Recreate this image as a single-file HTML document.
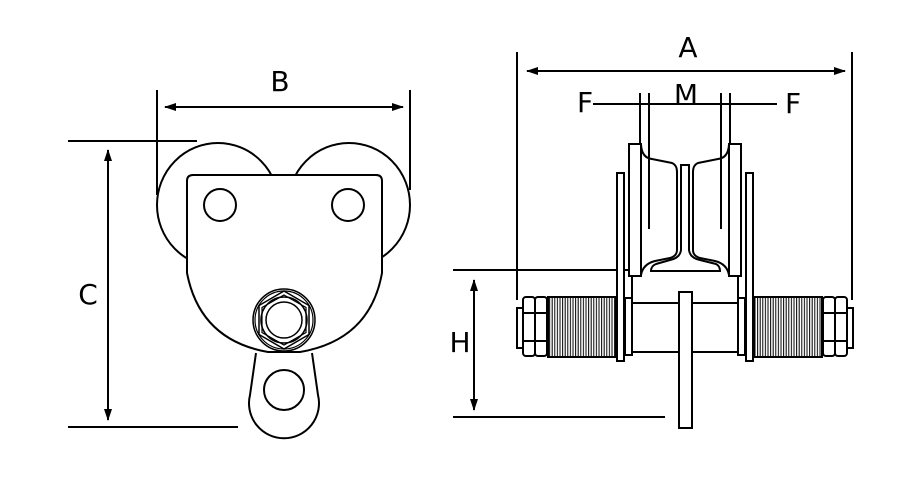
<!DOCTYPE html>
<html><head><style>html,body{margin:0;padding:0;background:#fff}svg{display:block}</style></head>
<body>
<svg width="900" height="495" viewBox="0 0 900 495" xmlns="http://www.w3.org/2000/svg">
<defs>
<marker id="ar" markerWidth="12" markerHeight="8" refX="11" refY="4" orient="auto" markerUnits="userSpaceOnUse"><path d="M0,0 L12,4 L0,8 Z" fill="#000"/></marker>
<marker id="al" markerWidth="12" markerHeight="8" refX="1" refY="4" orient="auto" markerUnits="userSpaceOnUse"><path d="M12,0 L0,4 L12,8 Z" fill="#000"/></marker>
<pattern id="th" width="2.6" height="10" patternUnits="userSpaceOnUse"><rect width="2.6" height="10" fill="#fff"/><line x1="1" y1="0" x2="1" y2="10" stroke="#000" stroke-width="1"/></pattern>
</defs>
<g fill="none" stroke="#000" stroke-width="2" font-family="'DejaVu Sans','Liberation Sans',sans-serif">
<!-- LEFT VIEW -->
<line x1="157" y1="90" x2="157" y2="195"/>
<line x1="410" y1="90" x2="410" y2="190"/>
<line x1="165" y1="107" x2="403" y2="107" marker-start="url(#al)" marker-end="url(#ar)"/>
<text x="280" y="91" font-size="28" fill="#000" stroke="none" text-anchor="middle">B</text>
<line x1="68" y1="141" x2="197" y2="141"/>
<line x1="68" y1="427" x2="238" y2="427"/>
<line x1="108" y1="150" x2="108" y2="420" marker-start="url(#al)" marker-end="url(#ar)"/>
<text x="88" y="304" font-size="28" fill="#000" stroke="none" text-anchor="middle">C</text>
<!-- wheels -->
<ellipse cx="218" cy="205" rx="61" ry="62"/>
<ellipse cx="349" cy="205" rx="61" ry="62"/>
<!-- plate -->
<path d="M193,175 L376,175 Q382,175 382,181 L382,273 Q370,340 300,352 L268,352 Q200,340 187,273 L187,181 Q187,175 193,175 Z" fill="#fff"/>
<circle cx="220" cy="205" r="16"/>
<circle cx="348" cy="205" r="16"/>
<!-- lug -->
<path d="M256,353 L250,395 A35,35 0 1 0 318,395 L312,353"/>
<circle cx="284" cy="390" r="20"/>
<!-- nut -->
<circle cx="284" cy="320" r="31" stroke-width="1.5"/>
<circle cx="284" cy="320" r="29" stroke-width="1.2"/>
<polygon points="284,291 309,305.5 309,334.5 284,349 259,334.5 259,305.5" stroke-width="1.5"/>
<polygon points="284,295 306,307.5 306,332.5 284,345 262,332.5 262,307.5" stroke-width="1.2"/>
<circle cx="284" cy="320" r="23" stroke-width="1.5"/>
<circle cx="284" cy="320" r="18" stroke-width="1.5"/>

<!-- RIGHT VIEW -->
<line x1="517" y1="52" x2="517" y2="300"/>
<line x1="852" y1="52" x2="852" y2="300"/>
<line x1="527" y1="71" x2="845" y2="71" marker-start="url(#al)" marker-end="url(#ar)"/>
<text x="688" y="57" font-size="28" fill="#000" stroke="none" text-anchor="middle">A</text>
<line x1="593" y1="104" x2="777" y2="104"/>
<text x="585" y="112" font-size="28" fill="#000" stroke="none" text-anchor="middle">F</text>
<text x="793" y="113" font-size="28" fill="#000" stroke="none" text-anchor="middle">F</text>
<text x="686" y="104" font-size="28" fill="#000" stroke="none" text-anchor="middle">M</text>
<line x1="640" y1="93" x2="640" y2="144"/>
<line x1="649" y1="93" x2="649" y2="229"/>
<line x1="721" y1="93" x2="721" y2="229"/>
<line x1="730" y1="93" x2="730" y2="144"/>
<!-- H -->
<line x1="453" y1="270" x2="640" y2="270"/>
<line x1="453" y1="417" x2="665" y2="417"/>
<line x1="474" y1="280" x2="474" y2="410" marker-start="url(#al)" marker-end="url(#ar)"/>
<text x="460" y="352" font-size="28" fill="#000" stroke="none" text-anchor="middle">H</text>
<!-- wheel profile -->
<path d="M641,145 Q642,158 652,159 L672,163 Q677,165 677,172 L677,250 Q677,256 670,258 L655,261 Q643,264 641,275"/>
<path d="M729,145 Q728,158 718,159 L698,163 Q693,165 693,172 L693,250 Q693,256 700,258 L715,261 Q727,264 729,275"/>
<!-- rail -->
<path d="M681,165 L689,165 L689,250 Q690,258 700,260 L716,264 Q720,266 720,271 L651,271 Q651,266 656,264 L670,260 Q680,258 681,250 Z" fill="#fff"/>
<!-- flanges -->
<rect x="629" y="144" width="12" height="132" fill="#fff"/>
<rect x="729" y="144" width="12" height="132" fill="#fff"/>
<line x1="632" y1="276" x2="632" y2="300"/>
<line x1="738" y1="276" x2="738" y2="300"/>
<!-- axle -->
<rect x="632" y="303" width="106" height="49" fill="#fff"/>
<!-- plates -->
<rect x="617" y="173" width="7" height="188" fill="#fff"/>
<rect x="746" y="173" width="7" height="188" fill="#fff"/>
<rect x="625" y="298" width="7" height="57" fill="#fff"/>
<rect x="738" y="298" width="7" height="57" fill="#fff"/>
<!-- threads -->
<rect x="548" y="297" width="68" height="60" fill="url(#th)"/>
<rect x="754" y="297" width="68" height="60" fill="url(#th)"/>
<!-- nuts -->
<rect x="523" y="297" width="12" height="59" rx="3" fill="#fff"/>
<rect x="535" y="297" width="12" height="59" rx="3" fill="#fff"/>
<line x1="523" y1="313" x2="547" y2="313"/><line x1="523" y1="341" x2="547" y2="341"/>
<rect x="517" y="308" width="6" height="40" fill="#fff"/>
<rect x="823" y="297" width="12" height="59" rx="3" fill="#fff"/>
<rect x="835" y="297" width="12" height="59" rx="3" fill="#fff"/>
<line x1="823" y1="313" x2="847" y2="313"/><line x1="823" y1="341" x2="847" y2="341"/>
<rect x="847" y="308" width="6" height="40" fill="#fff"/>
<!-- center plate -->
<rect x="679" y="292" width="13" height="136" fill="#fff"/>
</g>
</svg>
</body></html>
